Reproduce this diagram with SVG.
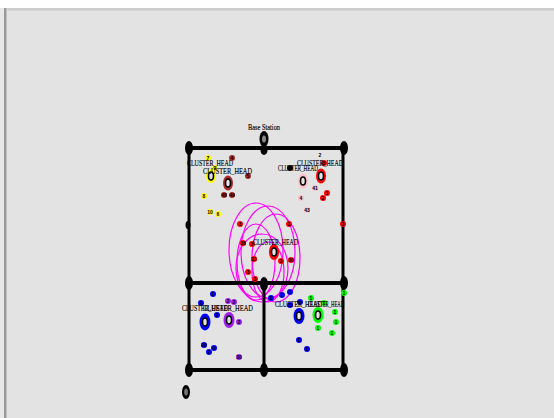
<svg xmlns="http://www.w3.org/2000/svg" width="554" height="418" viewBox="0 0 554 418">
<style>
.bg{fill:#e3e3e3}
.wire{stroke:#000;fill:none}
.h{stroke-width:4}
.v{stroke-width:3}
.grid{fill:#000}
.rng{fill:none;stroke:#ff00ff;stroke-width:1.2}
.lbl{font-family:"Liberation Serif",serif;font-size:8.5px;fill:#000;stroke:#000;stroke-width:0.15}
.num{font-family:"Liberation Sans",sans-serif;font-size:5px;font-weight:bold;fill:#000;text-anchor:middle}
.ch{fill:#e3e3e3;stroke:#000;stroke-width:1.6}
</style>
<rect x="0" y="0" width="554" height="418" fill="#ffffff"/>
<rect x="0" y="8" width="554" height="410" fill="#e8e8e8"/>
<rect x="7" y="10" width="547" height="408" class="bg"/>
<rect x="4" y="8" width="2.5" height="410" fill="#9a9a9a"/>
<rect x="6.5" y="8" width="547.5" height="2.5" fill="#cbcbcb"/>

<g id="ranges">
<ellipse class="rng" cx="256" cy="250" rx="27" ry="47"/>
<ellipse class="rng" cx="268" cy="252" rx="27" ry="46"/>
<ellipse class="rng" cx="276" cy="258" rx="24" ry="44"/>
<ellipse class="rng" cx="256" cy="262" rx="19" ry="38"/>
<ellipse class="rng" cx="268" cy="272" rx="16" ry="30"/>
<ellipse class="rng" cx="262" cy="268" rx="26" ry="34"/>
</g>

<g id="connectors">
<line class="wire h" x1="188" y1="148" x2="344" y2="148"/>
<line class="wire h" x1="188" y1="283" x2="344" y2="283"/>
<line class="wire h" x1="188" y1="370" x2="344" y2="370"/>
<line class="wire v" x1="189" y1="148" x2="189" y2="370"/>
<line class="wire v" x1="343" y1="148" x2="343" y2="370"/>
<line class="wire v" x1="264" y1="283" x2="264" y2="370"/>
</g>

<g id="base-station">
<ellipse cx="264" cy="139" rx="4.5" ry="8" fill="#000"/>
<ellipse cx="264" cy="139" rx="2" ry="3.5" fill="#888"/>
<text class="lbl" x="264" y="130" text-anchor="middle" font-size="6.5" textLength="32" lengthAdjust="spacingAndGlyphs">Base Station</text>
</g>

<g id="grid-nodes">
<ellipse class="grid" cx="189" cy="148" rx="4" ry="7"/>
<ellipse class="grid" cx="264" cy="150" rx="3.5" ry="5"/>
<ellipse class="grid" cx="344" cy="148" rx="4" ry="7"/>
<ellipse class="grid" cx="188" cy="225" rx="2.5" ry="4"/>
<ellipse class="grid" cx="189" cy="283" rx="4" ry="7"/>
<ellipse class="grid" cx="264" cy="284" rx="4" ry="7"/>
<ellipse class="grid" cx="344" cy="283" rx="4" ry="7"/>
<ellipse class="grid" cx="189" cy="370" rx="4" ry="7"/>
<ellipse class="grid" cx="264" cy="370" rx="4" ry="7"/>
<ellipse class="grid" cx="344" cy="370" rx="4" ry="7"/>
</g>

<g id="node-0">
<ellipse cx="186" cy="392" rx="4" ry="7" fill="#000"/>
<ellipse cx="186" cy="392" rx="1.8" ry="3.5" fill="#777"/>
</g>

<g id="cluster-yellow">
<circle cx="208" cy="158" r="3" fill="#ffff00"/><text class="num" x="208" y="160">7</text>
<circle cx="215" cy="168" r="3" fill="#ffff00"/><text class="num" x="215" y="170">9</text>
<circle cx="204" cy="196" r="3" fill="#ffff00"/><text class="num" x="204" y="198">8</text>
<circle cx="210" cy="212" r="3" fill="#ffff00"/><text class="num" x="210" y="214">10</text>
<circle cx="218" cy="214" r="3" fill="#ffff00"/><text class="num" x="218" y="216">6</text>
<ellipse cx="211" cy="176" rx="5" ry="7" fill="#ffff00"/>
<ellipse class="ch" cx="211" cy="176" rx="2.5" ry="4"/>
<text class="lbl" x="187" y="166" textLength="46" lengthAdjust="spacingAndGlyphs">CLUSTER_HEAD</text>
</g>

<g id="cluster-brown">
<circle cx="232" cy="158" r="3" fill="#a52a2a"/><text class="num" x="232" y="160">4</text>
<circle cx="248" cy="176" r="3" fill="#a52a2a"/><text class="num" x="248" y="178">5</text>
<circle cx="224" cy="195" r="3" fill="#a52a2a"/><text class="num" x="224" y="197">48</text>
<circle cx="232" cy="195" r="3" fill="#a52a2a"/><text class="num" x="232" y="197">49</text>
<ellipse cx="228" cy="183" rx="5" ry="7.5" fill="#a52a2a"/>
<ellipse class="ch" cx="228" cy="183" rx="2.5" ry="4"/>
<text class="lbl" x="203" y="174" textLength="49" lengthAdjust="spacingAndGlyphs">CLUSTER_HEAD</text>
</g>

<g id="cluster-pink">
<circle cx="290" cy="168" r="3" fill="#000"/>
<circle cx="315" cy="188" r="3" fill="#ffc0cb"/><text class="num" x="315" y="190">41</text>
<circle cx="301" cy="198" r="3" fill="#ffc0cb"/><text class="num" x="301" y="200">4</text>
<circle cx="307" cy="210" r="3" fill="#ffc0cb"/><text class="num" x="307" y="212">43</text>
<ellipse cx="303" cy="181" rx="5" ry="7.5" fill="#ffc0cb"/>
<ellipse class="ch" cx="303" cy="181" rx="2.5" ry="4"/>
<text class="lbl" x="278" y="171" textLength="40" lengthAdjust="spacingAndGlyphs">CLUSTER_HEAD</text>
</g>

<g id="cluster-red-top">
<circle cx="320" cy="155" r="3" fill="#e3e3e3"/><text class="num" x="320" y="157">2</text>
<circle cx="324" cy="163" r="3" fill="#ff0000"/><text class="num" x="324" y="165">3</text>
<circle cx="327" cy="193" r="3" fill="#ff0000"/><text class="num" x="327" y="195">1</text>
<circle cx="323" cy="198" r="3" fill="#ff0000"/><text class="num" x="323" y="200">2</text>
<ellipse cx="321" cy="176" rx="5" ry="7.5" fill="#ff0000"/>
<ellipse class="ch" cx="321" cy="176" rx="2.5" ry="4"/>
<text class="lbl" x="297" y="166" textLength="46" lengthAdjust="spacingAndGlyphs">CLUSTER_HEAD</text>
</g>

<g id="cluster-red-center">
<circle cx="240" cy="224" r="3" fill="#ff0000"/><text class="num" x="240" y="226">3</text>
<circle cx="289" cy="224" r="3" fill="#ff0000"/><text class="num" x="289" y="226">3</text>
<circle cx="343" cy="224" r="3" fill="#ff0000"/><text class="num" x="343" y="226">3</text>
<circle cx="243" cy="243" r="3" fill="#ff0000"/><text class="num" x="243" y="245">38</text>
<circle cx="252" cy="244" r="3" fill="#ff0000"/><text class="num" x="252" y="246">3</text>
<circle cx="254" cy="259" r="3" fill="#ff0000"/><text class="num" x="254" y="261">31</text>
<circle cx="281" cy="261" r="3" fill="#ff0000"/><text class="num" x="281" y="263">3</text>
<circle cx="291" cy="260" r="3" fill="#ff0000"/><text class="num" x="291" y="262">30</text>
<circle cx="248" cy="272" r="3" fill="#ff0000"/><text class="num" x="248" y="274">3</text>
<circle cx="255" cy="279" r="3" fill="#ff0000"/><text class="num" x="255" y="281">3</text>
<ellipse cx="274" cy="252" rx="5" ry="8" fill="#ff0000"/>
<ellipse class="ch" cx="274" cy="252" rx="2.5" ry="4"/>
<text class="lbl" x="253" y="245" textLength="45" lengthAdjust="spacingAndGlyphs">CLUSTER_HEAD</text>
</g>

<g id="cluster-blue-left">
<circle cx="213" cy="294" r="3" fill="#0000ff"/><text class="num" x="213" y="296">1</text>
<circle cx="201" cy="303" r="3" fill="#0000ff"/><text class="num" x="201" y="305">2</text>
<circle cx="217" cy="315" r="3" fill="#0000ff"/><text class="num" x="217" y="317">2</text>
<circle cx="204" cy="345" r="3" fill="#0000ff"/><text class="num" x="204" y="347">20</text>
<circle cx="209" cy="352" r="3" fill="#0000ff"/><text class="num" x="209" y="354">2</text>
<circle cx="214" cy="348" r="3" fill="#0000ff"/><text class="num" x="214" y="350">0</text>
<ellipse cx="205" cy="322" rx="5.5" ry="8.5" fill="#0000ff"/>
<ellipse class="ch" cx="205" cy="322" rx="2.5" ry="4"/>
<text class="lbl" x="182" y="311" textLength="46" lengthAdjust="spacingAndGlyphs">CLUSTER_HEAD</text>
</g>

<g id="cluster-purple">
<circle cx="228" cy="301" r="3" fill="#a020f0"/><text class="num" x="228" y="303">2</text>
<circle cx="234" cy="302" r="3" fill="#a020f0"/><text class="num" x="234" y="304">2</text>
<circle cx="239" cy="322" r="3" fill="#a020f0"/><text class="num" x="239" y="324">2</text>
<circle cx="239" cy="357" r="3" fill="#a020f0"/><text class="num" x="239" y="359">30</text>
<ellipse cx="229" cy="320" rx="5.5" ry="8" fill="#a020f0"/>
<ellipse class="ch" cx="229" cy="320" rx="2.5" ry="4"/>
<text class="lbl" x="203" y="311" textLength="50" lengthAdjust="spacingAndGlyphs">CLUSTER_HEAD</text>
</g>

<g id="cluster-blue-right">
<circle cx="271" cy="298" r="3" fill="#0000ff"/><text class="num" x="271" y="300">1</text>
<circle cx="282" cy="295" r="3" fill="#0000ff"/><text class="num" x="282" y="297">1</text>
<circle cx="290" cy="292" r="3" fill="#0000ff"/><text class="num" x="290" y="294">1</text>
<circle cx="290" cy="305" r="3" fill="#0000ff"/><text class="num" x="290" y="307">1</text>
<circle cx="300" cy="302" r="3" fill="#0000ff"/><text class="num" x="300" y="304">1</text>
<circle cx="299" cy="340" r="3" fill="#0000ff"/><text class="num" x="299" y="342">1</text>
<circle cx="307" cy="349" r="3" fill="#0000ff"/><text class="num" x="307" y="351">1</text>
<ellipse cx="299" cy="316" rx="5.5" ry="8" fill="#0000ff"/>
<ellipse class="ch" cx="299" cy="316" rx="2.5" ry="4"/>
<text class="lbl" x="275" y="307" textLength="47" lengthAdjust="spacingAndGlyphs">CLUSTER_HEAD</text>
</g>

<g id="cluster-green">
<circle cx="311" cy="298" r="3" fill="#00ff00"/><text class="num" x="311" y="300">1</text>
<circle cx="324" cy="303" r="3" fill="#00ff00"/><text class="num" x="324" y="305">1</text>
<circle cx="335" cy="312" r="3" fill="#00ff00"/><text class="num" x="335" y="314">1</text>
<circle cx="336" cy="322" r="3" fill="#00ff00"/><text class="num" x="336" y="324">1</text>
<circle cx="332" cy="333" r="3" fill="#00ff00"/><text class="num" x="332" y="335">1</text>
<circle cx="318" cy="328" r="3" fill="#00ff00"/><text class="num" x="318" y="330">1</text>
<circle cx="344" cy="293" r="3" fill="#00ff00"/><text class="num" x="344" y="295">1</text>
<ellipse cx="318" cy="315" rx="5.5" ry="8" fill="#00ff00"/>
<ellipse class="ch" cx="318" cy="315" rx="2.5" ry="4"/>
<text class="lbl" x="308" y="307" textLength="36" lengthAdjust="spacingAndGlyphs">CLUSTER_HEAD</text>
</g>
</svg>
